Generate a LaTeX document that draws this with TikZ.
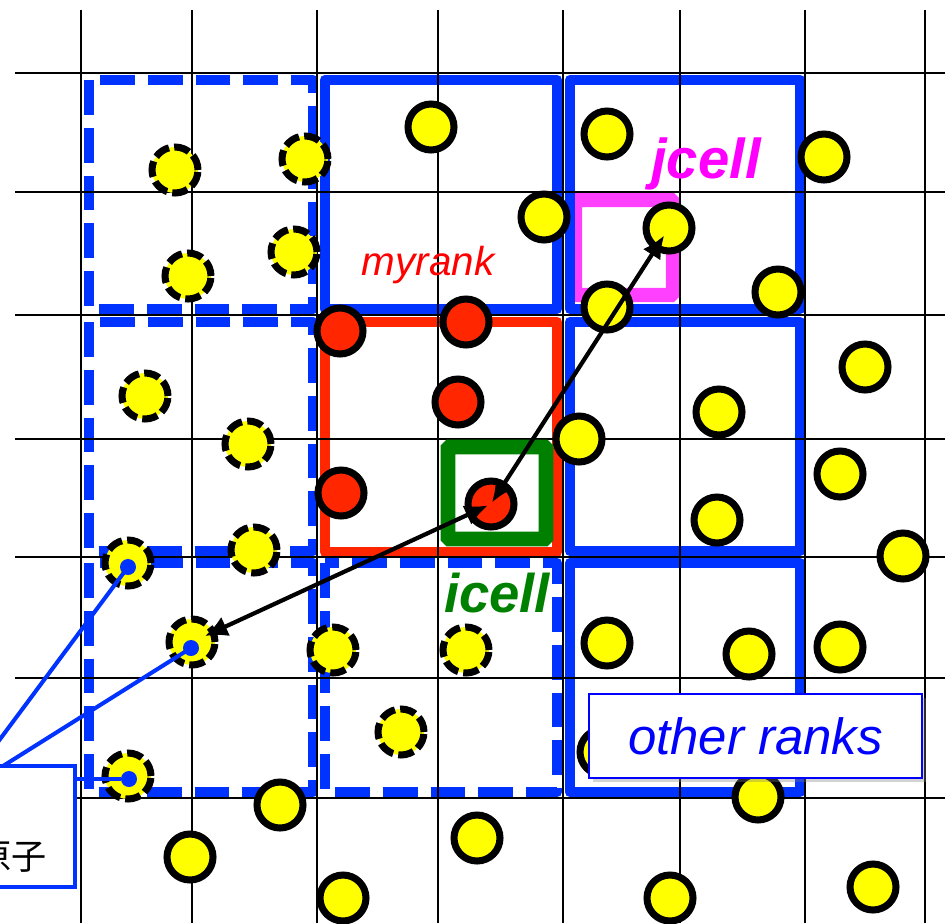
\documentclass[tikz,border=0pt]{standalone}
\usepackage{fontspec}
\setmainfont{Liberation Sans}
\newfontfamily\jpfont{Noto Sans CJK JP}
\usepackage{xcolor}
\usetikzlibrary{arrows.meta}
\usetikzlibrary{shadows}
\definecolor{rblue}{RGB}{0,51,255}
\definecolor{rred}{RGB}{255,38,0}
\definecolor{cgreen}{RGB}{0,128,0}
\definecolor{cmag}{RGB}{255,64,255}
\definecolor{tmag}{RGB}{255,0,255}
\definecolor{tred}{RGB}{255,0,0}
\definecolor{lblue}{RGB}{0,0,255}
\definecolor{pyellow}{RGB}{255,255,0}

\tikzset{
  gridline/.style={line width=1.5pt},
  rankline/.style={draw=rblue, line width=6.2pt, line join=round},
  rankdash/.style={rankline, dash pattern=on 19.8pt off 7.4pt},
  ptcl/.style={circle, draw=black, fill=pyellow, line width=4pt, minimum size=0.92cm, inner sep=0pt},
  ghost/.style={ptcl, dash pattern=on 9pt off 3pt},
  mine/.style={ptcl, fill=rred},
  bdot/.style={circle, fill=rblue, minimum size=0.32cm, inner sep=0pt},
  legline/.style={draw=rblue, line width=2.3pt},
  legbox/.style={draw=rblue, fill=white, line width=2.3pt, outer sep=0pt},
  otherbox/.style={draw=lblue, fill=white, line width=0.9pt, text=lblue,
    minimum width=6.66cm, minimum height=1.68cm,
    drop shadow={shadow xshift=2.5pt, shadow yshift=-2.5pt, opacity=0.35},
    font=\itshape\fontsize{29}{34}\selectfont},
  dblarrow/.style={{Latex[length=13pt,width=12pt]}-{Latex[length=13pt,width=12pt]}, line width=2.4pt}
}

\begin{document}
\begin{tikzpicture}[x=0.02cm, y=-0.02cm]
\useasboundingbox (0,0) rectangle (945,923);
\clip (0,0) rectangle (945,923);

%jcell box (under the rank border)
\draw[draw=cmag, line width=8pt, rounded corners=1pt] (575,200) rectangle (673,295);

%Ranks:
\draw[rankline] (325,80) rectangle (557,309);
\draw[rankline] (570,80) rectangle (800,309);
\draw[rankline] (570,322) rectangle (800,551);
\draw[rankline] (570,563) rectangle (800,792);
\draw[rankdash] (89,80) rectangle (313,309);
\draw[rankdash] (89,322) rectangle (313,551);
\draw[rankdash] (89,563) rectangle (313,792);
\draw[rankdash] (325,563) rectangle (557,792);
\draw[draw=rred, line width=6.2pt, line join=round] (325,322) rectangle (557,552);

%Cells:
\foreach \gx in {81,192,317,438,563,680,805,925}
  \draw[gridline] (\gx,10) -- (\gx,923);
\foreach \gy in {73,192,315,439,557,678,798}
  \draw[gridline] (15,\gy) -- (945,\gy);

%icell box
\draw[draw=cgreen, line width=8.5pt, rounded corners=1pt] (448,447) rectangle (546,539);

%Particles:
\foreach \px/\py [count=\i] in {431/127, 544/217, 607/134, 824/157, 607/307, 778/292,
    579/439, 719/412, 717/520, 865/367, 840/474, 903/556, 607/643, 749/654,
    840/647, 603/752, 758/797, 280/805, 190/857, 477/838, 343/898, 670/898, 873/887}
  \node[ptcl] (p\i) at (\px,\py) {};
\foreach \px/\py [count=\i] in {175/170, 305/159, 188/276, 294/252, 145/396, 248/444,
    128/563, 254/550, 128/776, 333/650, 466/650, 401/732}
  \node[ghost] (g\i) at (\px,\py) {};
\foreach \px/\py [count=\i] in {340/331, 466/322, 458/402, 341/493}
  \node[mine] (m\i) at (\px,\py) {};
\node[ptcl] (jp) at (669,228) {};
\node[mine] (ip) at (491,504) {};
\node[ghost] (gp) at (192,642) {};

%Labels:
\node[anchor=base, text=tred, font=\itshape\fontsize{23}{28}\selectfont] (myrank) at (428,275) {myrank};
\node[anchor=base, text=tmag, font=\bfseries\itshape\fontsize{32}{38}\selectfont] (jcell) at (706,178) {jcell};
\node[anchor=base, text=cgreen, font=\bfseries\itshape\fontsize{31}{36}\selectfont] (icell) at (497,612) {icell};

%Pair distances
\draw[dblarrow, shorten <=5pt, shorten >=1pt] (jp.center) -- (ip.center);
\draw[dblarrow, shorten <=2pt, shorten >=8pt] (ip.center) -- (gp.center);

%Legend
\coordinate (src) at (-40,793);
\draw[legline] (src) -- (128,567);
\draw[legline] (src) -- (191,648);
\node[bdot] (d1) at (128,567) {};
\node[bdot] (d2) at (191,648) {};
\node[bdot] (d3) at (129,779) {};
\node[legbox, minimum width=6cm, minimum height=2.42cm, anchor=north east] (legend) at (75,766) {};
\node[anchor=base east, inner sep=0pt, font=\jpfont\fontsize{20}{24}\selectfont] (legtext) at (47,869) {原子};
\draw[legline] (legend.east |- d3) -- (d3);

\node[otherbox] (others) at (755.5,736) {other ranks};

\end{tikzpicture}
\end{document}
